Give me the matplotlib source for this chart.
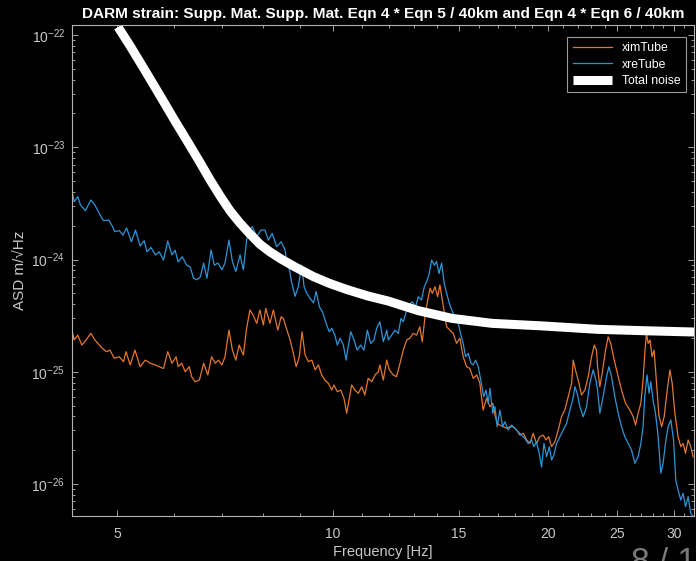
import numpy as np
import matplotlib
matplotlib.use("Agg")
import matplotlib.pyplot as plt
from matplotlib.ticker import FixedLocator, NullFormatter, LogLocator

plt.rcParams['font.family'] = ['Liberation Sans', 'DejaVu Sans']
plt.rcParams['mathtext.fontset'] = 'custom'
plt.rcParams['mathtext.rm'] = 'Liberation Sans'
plt.rcParams['mathtext.it'] = 'Liberation Sans:italic'

# ---------------- data (ASD in units of 1e-25 m/sqrt(Hz)) ----------------
xre_freq = [4.32, 4.35, 4.40, 4.44, 4.51, 4.59, 4.65, 4.73, 4.78, 4.86,
            4.91, 4.96, 5.03, 5.09, 5.15, 5.23, 5.30, 5.38, 5.45, 5.50,
            5.57, 5.65, 5.72, 5.80, 5.88, 5.96, 6.02, 6.08, 6.16, 6.25,
            6.32, 6.39, 6.46, 6.53, 6.60, 6.67, 6.76, 6.83, 6.91, 7.00,
            7.07, 7.16, 7.24, 7.32, 7.42, 7.50, 7.58, 7.64, 7.72, 7.83,
            7.94, 8.04, 8.13, 8.23, 8.35, 8.47, 8.58, 8.63, 8.70, 8.76,
            8.86, 8.95, 9.05, 9.12, 9.20, 9.30, 9.40, 9.48, 9.58, 9.68,
            9.79, 9.89, 9.97, 10.07, 10.15, 10.24, 10.35, 10.44, 10.51, 10.60,
            10.71, 10.82, 10.94, 11.06, 11.18, 11.30, 11.42, 11.52, 11.64, 11.77,
            11.90, 11.96, 12.09, 12.22, 12.35, 12.46, 12.55, 12.65, 12.78, 12.92,
            13.06, 13.17, 13.31, 13.43, 13.53, 13.63, 13.75, 13.87, 13.97, 14.08,
            14.20, 14.32, 14.43, 14.58, 14.74, 14.85, 14.98, 15.11, 15.22, 15.34,
            15.47, 15.61, 15.72, 15.84, 15.98, 16.12, 16.26, 16.38, 16.50, 16.59,
            16.74, 16.86, 16.98, 17.13, 17.28, 17.41, 17.59, 17.79, 17.97, 18.17,
            18.37, 18.56, 18.76, 18.97, 19.11, 19.27, 19.44, 19.59, 19.74, 19.91,
            20.08, 20.23, 20.38, 20.56, 20.78, 21.00, 21.23, 21.46, 21.65, 21.81,
            21.97, 22.16, 22.40, 22.64, 22.88, 23.13, 23.33, 23.46, 23.63, 23.88,
            24.15, 24.33, 24.54, 24.80, 25.07, 25.34, 25.61, 25.89, 26.17, 26.45,
            26.73, 26.97, 27.16, 27.31, 27.51, 27.69, 27.84, 28.05, 28.27, 28.51,
            28.76, 28.97, 29.19, 29.44, 29.70, 29.96, 30.18, 30.40, 30.67, 30.90,
            31.14, 31.40, 31.67, 31.91]
xre_asd = [41.7, 32.7, 36.3, 30.6, 27.2, 33.9, 30.6, 24.9, 22.2, 22.5,
           20.3, 17.7, 18.1, 16.5, 19.1, 14.4, 18.3, 13.2, 14.7, 11.7,
           12.8, 11.0, 11.7, 9.9, 14.6, 11.0, 12.1, 9.5, 10.6, 8.9,
           8.6, 6.8, 6.6, 7.0, 9.3, 6.8, 12.2, 8.9, 9.3, 8.1,
           9.3, 14.9, 9.6, 7.8, 11.0, 8.1, 14.9, 18.3, 19.6, 16.0,
           18.3, 18.3, 14.9, 17.1, 13.0, 14.4, 12.1, 9.3, 8.1, 6.3,
           4.7, 5.7, 8.9, 5.7, 5.0, 4.5, 4.1, 5.2, 3.8, 3.4,
           2.7, 2.27, 2.44, 2.12, 1.73, 1.99, 1.73, 1.27, 1.67, 2.27,
           1.92, 1.56, 1.73, 1.56, 2.35, 1.79, 1.92, 2.44, 2.79, 1.85,
           2.35, 1.92, 2.12, 2.35, 2.20, 2.99, 2.79, 3.31, 3.93, 4.21,
           3.80, 4.66, 4.36, 5.73, 6.34, 7.28, 9.9, 8.9, 9.6, 7.5,
           9.3, 6.1, 5.0, 3.93, 3.31, 2.99, 2.70, 2.12, 1.79, 1.36,
           1.46, 1.19, 1.15, 1.27, 1.11, 0.815, 0.599, 0.688, 0.524, 0.712,
           0.427, 0.488, 0.324, 0.456, 0.324, 0.359, 0.303, 0.335, 0.314, 0.292,
           0.273, 0.255, 0.230, 0.247, 0.215, 0.238, 0.188, 0.142, 0.230, 0.175,
           0.215, 0.164, 0.181, 0.230, 0.264, 0.303, 0.347, 0.456, 0.560, 0.736,
           0.643, 0.488, 0.398, 0.488, 0.789, 1.04, 0.844, 0.688, 0.427, 0.599,
           0.904, 1.11, 0.904, 0.599, 0.427, 0.324, 0.264, 0.230, 0.201, 0.153,
           0.175, 0.230, 0.324, 0.599, 0.936, 0.643, 0.815, 0.560, 0.427, 0.264,
           0.125, 0.153, 0.230, 0.324, 0.372, 0.247, 0.108, 0.0884, 0.0720, 0.0826,
           0.0628, 0.0771, 0.0548, 0.0512]

xim_freq = [4.32, 4.35, 4.40, 4.46, 4.52, 4.59, 4.65, 4.76, 4.83, 4.88,
            4.95, 5.03, 5.10, 5.14, 5.21, 5.29, 5.38, 5.47, 5.56, 5.65,
            5.72, 5.80, 5.88, 5.96, 6.04, 6.08, 6.15, 6.22, 6.30, 6.35,
            6.42, 6.51, 6.60, 6.69, 6.77, 6.85, 6.92, 7.00, 7.07, 7.16,
            7.24, 7.32, 7.40, 7.50, 7.58, 7.66, 7.74, 7.83, 7.91, 8.00,
            8.06, 8.17, 8.26, 8.38, 8.47, 8.53, 8.63, 8.72, 8.81, 8.89,
            8.98, 9.06, 9.15, 9.25, 9.35, 9.45, 9.55, 9.65, 9.75, 9.86,
            9.97, 10.04, 10.15, 10.26, 10.37, 10.46, 10.55, 10.63, 10.74, 10.86,
            10.98, 11.09, 11.21, 11.34, 11.46, 11.58, 11.64, 11.77, 11.90, 12.00,
            12.15, 12.28, 12.42, 12.55, 12.69, 12.82, 12.96, 13.10, 13.24, 13.34,
            13.46, 13.58, 13.68, 13.78, 13.90, 14.02, 14.12, 14.27, 14.43, 14.58,
            14.74, 14.90, 15.06, 15.22, 15.39, 15.55, 15.72, 15.90, 16.06, 16.23,
            16.41, 16.59, 16.74, 16.86, 16.98, 17.13, 17.31, 17.51, 17.69, 17.88,
            18.08, 18.27, 18.47, 18.67, 18.87, 19.07, 19.27, 19.48, 19.69, 19.87,
            20.04, 20.23, 20.45, 20.67, 20.89, 21.11, 21.34, 21.58, 21.69, 21.88,
            22.04, 22.28, 22.52, 22.76, 23.01, 23.21, 23.38, 23.46, 23.63, 23.81,
            24.07, 24.27, 24.48, 24.75, 25.07, 25.34, 25.67, 26.03, 26.31, 26.51,
            26.73, 26.97, 27.16, 27.31, 27.46, 27.61, 27.78, 27.96, 28.14, 28.36,
            28.58, 28.83, 29.07, 29.32, 29.61, 29.83, 30.09, 30.40, 30.67, 30.90,
            31.14, 31.40, 31.67, 31.91]
xim_asd = [2.35, 1.92, 2.12, 1.73, 1.92, 2.20, 1.92, 1.62, 1.51, 1.56,
           1.32, 1.36, 1.23, 1.51, 1.15, 1.56, 1.11, 1.27, 1.19, 1.15,
           1.11, 1.07, 1.51, 1.19, 1.36, 1.11, 1.19, 1.00, 1.11, 0.904,
           0.815, 0.844, 1.19, 0.936, 1.36, 1.19, 1.27, 1.15, 1.36, 2.35,
           1.56, 1.27, 1.73, 1.41, 2.44, 3.55, 3.20, 2.70, 3.55, 2.61,
           3.67, 2.70, 3.55, 2.35, 3.09, 2.99, 2.35, 1.92, 1.46, 1.11,
           1.36, 2.27, 1.41, 1.23, 1.27, 1.04, 1.15, 0.936, 0.844, 0.789,
           0.688, 0.762, 0.664, 0.688, 0.580, 0.427, 0.580, 0.762, 0.688, 0.643,
           0.736, 0.621, 0.874, 0.815, 0.936, 1.00, 1.15, 0.844, 1.27, 1.04,
           0.936, 0.904, 1.19, 1.56, 1.92, 1.99, 2.20, 2.12, 2.52, 1.85,
           3.09, 4.36, 5.54, 5.00, 5.73, 4.66, 5.93, 3.93, 2.52, 2.35,
           2.20, 1.79, 1.99, 1.36, 1.11, 1.07, 0.874, 0.936, 0.789, 0.456,
           0.580, 0.488, 0.524, 0.412, 0.347, 0.335, 0.324, 0.314, 0.324, 0.324,
           0.303, 0.273, 0.283, 0.247, 0.230, 0.283, 0.230, 0.264, 0.273, 0.247,
           0.264, 0.215, 0.238, 0.303, 0.398, 0.456, 0.599, 0.789, 1.27, 1.00,
           0.844, 0.621, 0.688, 0.904, 1.36, 1.73, 1.56, 1.11, 0.736, 0.969,
           1.56, 2.05, 1.79, 1.27, 0.904, 0.688, 0.524, 0.456, 0.398, 0.335,
           0.427, 0.524, 0.844, 1.46, 2.20, 1.79, 1.92, 1.36, 1.56, 0.789,
           0.412, 0.324, 0.398, 0.643, 1.04, 0.789, 0.427, 0.264, 0.215, 0.230,
           0.188, 0.247, 0.215, 0.175]

total_freq = [5.01, 5.21, 5.47, 5.74, 6.02, 6.32, 6.53, 6.74, 6.96, 7.19,
              7.42, 7.66, 7.91, 8.17, 8.47, 8.86, 9.39, 9.91, 10.47, 11.20,
              11.95, 13.16, 14.68, 16.70, 19.68, 23.41, 27.31, 32.0]
total_asd = [1178, 798, 478, 286, 171, 102.6, 72.4, 51.1, 36.8, 27.0,
             21.1, 16.9, 13.7, 11.7, 10.1, 8.58, 7.06, 6.11, 5.40, 4.73,
             4.27, 3.51, 2.99, 2.70, 2.56, 2.39, 2.32, 2.26]

unit = 1e-25
series_labels = ['ximTube', 'xreTube', 'Total noise']
title_text = 'DARM strain: Supp. Mat. Supp. Mat. Eqn 4 * Eqn 5 / 40km and Eqn 4 * Eqn 6 / 40km'
x_major = [5, 10, 15, 20, 25, 30]
x_minor = [6, 7, 8, 9, 11, 12, 13, 14, 16, 17, 18, 19, 21, 22, 23, 24, 26, 27, 28, 29, 31, 32]

# ---------------- plot ----------------
W, H = 696, 561
fig = plt.figure(figsize=(W / 100, H / 100), dpi=100, facecolor='#000000')
ax = fig.add_axes([72 / W, 45 / H, (694 - 72) / W, (516 - 25) / H])
ax.set_facecolor('#000000')

c_orange = '#e2772e'
c_blue = '#2d94d6'
ax.plot(xim_freq, np.array(xim_asd) * unit, color=c_orange, lw=0.9, label=series_labels[0])
ax.plot(xre_freq, np.array(xre_asd) * unit, color=c_blue, lw=0.9, label=series_labels[1])
ax.plot(total_freq, np.array(total_asd) * unit, color='white', lw=6.5,
        solid_capstyle='butt', solid_joinstyle='round', label=series_labels[2])

ax.set_xscale('log')
ax.set_yscale('log')
ax.set_xlim(4.32, 32.0)
ax.set_ylim(5.19e-27, 1.228e-22)

axis_col = '#b4b4b4'
for s in ax.spines.values():
    s.set_color(axis_col)
    s.set_linewidth(0.8)

ax.xaxis.set_major_locator(FixedLocator(x_major))
ax.xaxis.set_minor_locator(FixedLocator(x_minor))
ax.set_xticklabels([str(v) for v in x_major])
ax.xaxis.set_minor_formatter(NullFormatter())
ax.yaxis.set_major_locator(LogLocator(base=10, numticks=10))
ax.yaxis.set_minor_locator(LogLocator(base=10, subs=np.arange(2, 10), numticks=20))
ax.yaxis.set_minor_formatter(NullFormatter())

ax.tick_params(which='both', direction='in', top=True, right=True,
               colors=axis_col, labelcolor='#c8c8c8', width=0.6)
ax.tick_params(which='major', length=4.5, labelsize=10)
ax.tick_params(which='minor', length=2.5)
ax.tick_params(axis='x', which='major', pad=8)
ax.tick_params(axis='y', which='major', pad=5)

ax.set_xlabel('Frequency [Hz]', color='#c8c8c8', fontsize=10.5, labelpad=3)
ax.set_ylabel('ASD m/√Hz', color='#c8c8c8', fontsize=11, labelpad=3)
ax.set_title(title_text, color='white', fontsize=11.1, fontweight='bold', pad=5)

leg = ax.legend(loc='upper right', bbox_to_anchor=(0.987, 0.976), borderaxespad=0,
                fontsize=8.8, facecolor='black', edgecolor='#9a9a9a', framealpha=1,
                fancybox=False, handlelength=3.2, labelcolor='white',
                borderpad=0.45, labelspacing=0.35)
leg.get_frame().set_linewidth(0.8)

fig.text(631 / W, 1 - 547 / H, '8 / 12', va='top', ha='left', fontsize=24, color='#7a7a7a')

fig.savefig('out.png', dpi=100, facecolor=fig.get_facecolor())
